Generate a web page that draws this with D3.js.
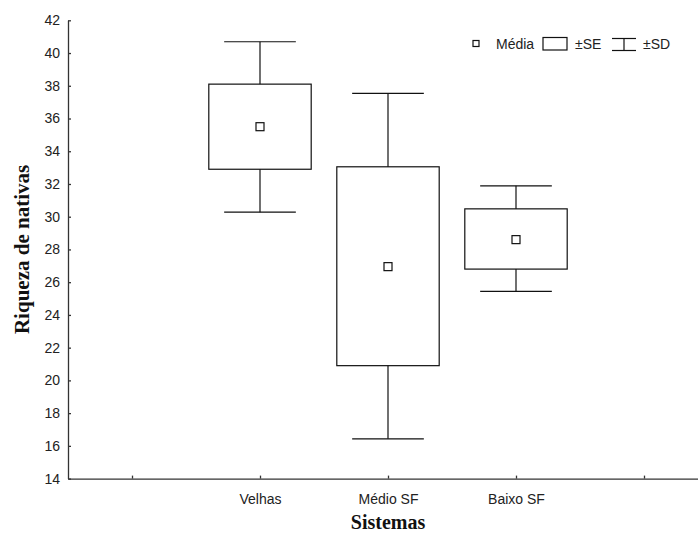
<!DOCTYPE html>
<html>
<head>
<meta charset="utf-8">
<script src="https://cdn.jsdelivr.net/npm/d3@7"></script>
<style>
  body { margin: 0; background: #fff; }
  svg { display: block; }
  .axis text { font-family: Arial, "Liberation Sans", sans-serif; font-size: 14px; fill: #222; }
  .axis path, .axis line { stroke: #333; stroke-width: 1.3; }
  .title { font-family: "Times New Roman", "Liberation Serif", serif; font-weight: bold; font-size: 20px; fill: #111; }
  .legend text { font-family: Arial, "Liberation Sans", sans-serif; font-size: 14px; fill: #222; }
</style>
</head>
<body>
<svg width="698" height="535"></svg>
<script>
// Data
const categories = ["Velhas", "Médio SF", "Baixo SF"];
const means   = [35.5, 26.95, 28.6];
const seLow   = [32.9, 20.9, 26.8];
const seHigh  = [38.1, 33.05, 30.48];
const sdLow   = [30.28, 16.43, 25.44];
const sdHigh  = [40.69, 37.54, 31.89];
const yTicks  = [14, 16, 18, 20, 22, 24, 26, 28, 30, 32, 34, 36, 38, 40, 42];

const data = categories.map(function(c, i) {
  return {cat: c, pos: i + 2, mean: means[i], seLow: seLow[i], seHigh: seHigh[i], sdLow: sdLow[i], sdHigh: sdHigh[i]};
});

const svg = d3.select("svg");

// Scales
const x = d3.scaleLinear().domain([0.5, 5.5]).range([68, 708]);
const y = d3.scaleLinear().domain([14, 42]).range([478.6, 20.3]);
const boxW = 0.8, capW = 0.56;

// Axes
const xLabels = [""].concat(categories).concat([""]);
svg.append("g")
    .attr("class", "axis axis-x")
    .attr("transform", "translate(0," + y(14) + ")")
    .call(d3.axisBottom(x)
      .tickValues([1, 2, 3, 4, 5])
      .tickFormat(function(d) { return xLabels[d - 1]; })
      .tickSizeInner(-3).tickSizeOuter(0).tickPadding(15));

svg.append("g")
    .attr("class", "axis axis-y")
    .attr("transform", "translate(" + x(0.5) + ",0)")
    .call(d3.axisLeft(y)
      .tickValues(yTicks)
      .tickFormat(d3.format("d"))
      .tickSizeInner(-3).tickSizeOuter(0).tickPadding(8));

// Whiskers (±SD)
const g = svg.append("g").attr("stroke", "#111").attr("stroke-width", 1.2).attr("fill", "none");
const groups = g.selectAll("g.cat").data(data).enter().append("g").attr("class", "cat");

groups.append("line")
    .attr("x1", function(d) { return x(d.pos); })
    .attr("x2", function(d) { return x(d.pos); })
    .attr("y1", function(d) { return y(d.sdHigh); })
    .attr("y2", function(d) { return y(d.sdLow); });
["sdHigh", "sdLow"].forEach(function(k) {
  groups.append("line")
      .attr("x1", function(d) { return x(d.pos - capW / 2); })
      .attr("x2", function(d) { return x(d.pos + capW / 2); })
      .attr("y1", function(d) { return y(d[k]); })
      .attr("y2", function(d) { return y(d[k]); });
});

// Boxes (±SE)
groups.append("rect")
    .attr("x", function(d) { return x(d.pos - boxW / 2); })
    .attr("width", x(boxW) - x(0))
    .attr("y", function(d) { return y(d.seHigh); })
    .attr("height", function(d) { return y(d.seLow) - y(d.seHigh); })
    .attr("fill", "#fff");

// Mean markers
groups.append("rect")
    .attr("x", function(d) { return x(d.pos) - 4; })
    .attr("y", function(d) { return y(d.mean) - 4; })
    .attr("width", 8).attr("height", 8)
    .attr("fill", "#fff");

// Titles
svg.append("text").attr("class", "title")
    .attr("x", x(3)).attr("y", 529)
    .attr("text-anchor", "middle")
    .text("Sistemas");
svg.append("text").attr("class", "title")
    .attr("transform", "translate(29," + y(28) + ") rotate(-90)")
    .attr("text-anchor", "middle")
    .style("font-size", "21px")
    .text("Riqueza de nativas");

// Legend
const lg = svg.append("g").attr("class", "legend");
lg.append("rect").attr("x", 473).attr("y", 40.5).attr("width", 6).attr("height", 6)
    .attr("fill", "#fff").attr("stroke", "#111").attr("stroke-width", 1.2);
lg.append("text").attr("x", 496).attr("y", 48.5).text("Média");
lg.append("rect").attr("x", 543).attr("y", 37.5).attr("width", 24).attr("height", 12.5)
    .attr("fill", "#fff").attr("stroke", "#111").attr("stroke-width", 1.2);
lg.append("text").attr("x", 575).attr("y", 48.5).text("±SE");
const ws = lg.append("g").attr("stroke", "#111").attr("stroke-width", 1.2);
ws.append("line").attr("x1", 612).attr("x2", 636).attr("y1", 38.5).attr("y2", 38.5);
ws.append("line").attr("x1", 612).attr("x2", 636).attr("y1", 50.5).attr("y2", 50.5);
ws.append("line").attr("x1", 624).attr("x2", 624).attr("y1", 38.5).attr("y2", 50.5);
lg.append("text").attr("x", 643).attr("y", 48.5).text("±SD");
</script>
</body>
</html>
